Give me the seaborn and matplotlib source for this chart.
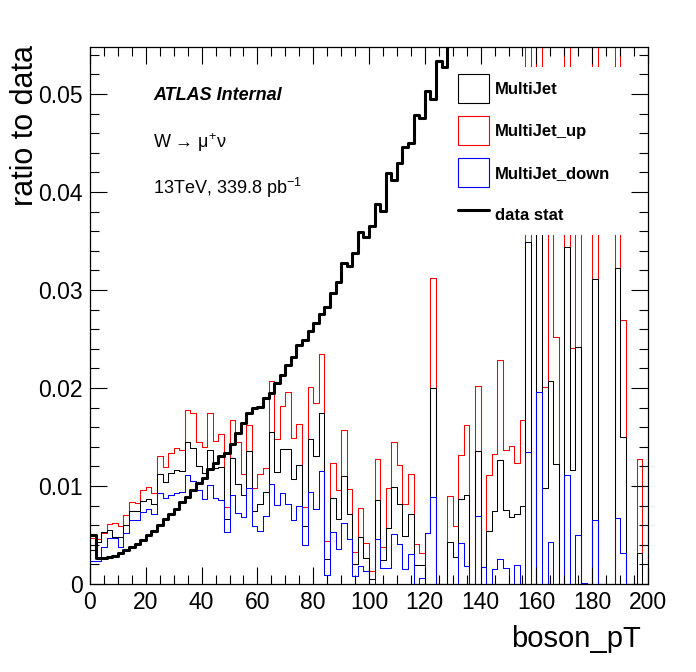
import numpy as np
import pandas as pd
import matplotlib
matplotlib.use("Agg")
import matplotlib.pyplot as plt
import seaborn as sns
from matplotlib.patches import Patch, Rectangle
from matplotlib.lines import Line2D
from matplotlib.ticker import MultipleLocator, FuncFormatter

# ---------------- data (100 bins of 2 GeV, 0-200) ----------------
bin_edges = [float(v) for v in np.arange(0, 202, 2)]
bin_centers = [e + 1.0 for e in bin_edges[:-1]]

multijet = [
    0.0035, 0.0043, 0.0053, 0.0055, 0.0048, 0.0048, 0.0060, 0.0075, 0.0074, 0.0085,
    0.0087, 0.0082, 0.0112, 0.0104, 0.0113, 0.0116, 0.0115, 0.0145, 0.0139, 0.0120,
    0.0113, 0.0137, 0.0118, 0.0119, 0.0066, 0.0129, 0.0102, 0.0091, 0.0136, 0.0075,
    0.0082, 0.0094, 0.0155, 0.0114, 0.0138, 0.0138, 0.0107, 0.0121, 0.0059, 0.0148,
    0.0131, 0.0175, 0.0026, 0.0088, 0.0066, 0.0110, 0.0071, 0.0020, 0.0048, 0.0027,
    0.0005, 0.0086, 0.0024, 0.0057, 0.0099, 0.0082, 0.0049, 0.0071, 0.0019, 0.0019,
    0.0052, 0.0200, 0.0, 0.0, 0.0043, 0.0028, 0.0087, 0.0091, 0.0, 0.0136,
    0.0017, 0.0054, 0.0074, 0.0127, 0.0076, 0.0068, 0.0071, 0.0080, 0.0349, 0.0,
    0.0500, 0.0098, 0.0207, 0.0122, 0.0, 0.0344, 0.0116, 0.0242, 0.0, 0.0,
    0.0311, 0.0, 0.0, 0.0, 0.0322, 0.0150, 0.0, 0.0, 0.0032, 0.0,
]

multijet_up = [
    0.0047, 0.0046, 0.0052, 0.0061, 0.0062, 0.0059, 0.0070, 0.0084, 0.0083, 0.0096,
    0.0099, 0.0093, 0.0131, 0.0119, 0.0134, 0.0139, 0.0137, 0.0178, 0.0174, 0.0145,
    0.0140, 0.0174, 0.0146, 0.0153, 0.0079, 0.0167, 0.0145, 0.0112, 0.0162, 0.0098,
    0.0112, 0.0118, 0.0207, 0.0148, 0.0182, 0.0196, 0.0149, 0.0163, 0.0079, 0.0201,
    0.0185, 0.0235, 0.0044, 0.0123, 0.0096, 0.0157, 0.0097, 0.0033, 0.0078, 0.0042,
    0.0013, 0.0128, 0.0038, 0.0098, 0.0145, 0.0121, 0.0082, 0.0112, 0.0041, 0.0032,
    0.0052, 0.0312, 0.0, 0.0, 0.0090, 0.0059, 0.0132, 0.0162, 0.0, 0.0202,
    0.0017, 0.0111, 0.0133, 0.0229, 0.0137, 0.0141, 0.0123, 0.0167, 0.0650, 0.0,
    0.0650, 0.0201, 0.0450, 0.0252, 0.0, 0.0650, 0.0241, 0.0470, 0.0, 0.0,
    0.0650, 0.0, 0.0, 0.0, 0.0650, 0.0269, 0.0, 0.0, 0.0128, 0.0,
]

multijet_down = [
    0.0023, 0.0023, 0.0038, 0.0047, 0.0047, 0.0038, 0.0052, 0.0065, 0.0065, 0.0073,
    0.0077, 0.0071, 0.0093, 0.0088, 0.0091, 0.0093, 0.0094, 0.0111, 0.0105, 0.0096,
    0.0087, 0.0101, 0.0088, 0.0086, 0.0053, 0.0091, 0.0072, 0.0068, 0.0098, 0.0059,
    0.0054, 0.0069, 0.0102, 0.0081, 0.0093, 0.0082, 0.0065, 0.0080, 0.0040, 0.0094,
    0.0077, 0.0115, 0.0009, 0.0053, 0.0036, 0.0062, 0.0046, 0.0008, 0.0018, 0.0013,
    0.0, 0.0046, 0.0016, 0.0016, 0.0051, 0.0041, 0.0015, 0.0031, 0.0, 0.0006,
    0.0052, 0.0089, 0.0, 0.0, 0.0, 0.0, 0.0042, 0.0018, 0.0, 0.0069,
    0.0017, 0.0, 0.0015, 0.0026, 0.0016, 0.0, 0.0019, 0.0, 0.0135, 0.0,
    0.0196, 0.0, 0.0043, 0.0, 0.0, 0.0111, 0.0, 0.0050, 0.0001, 0.0,
    0.0065, 0.0, 0.0, 0.0, 0.0067, 0.0032, 0.0, 0.0, 0.0, 0.0,
]

data_stat = [
    0.0050, 0.0027, 0.0027, 0.0028, 0.0029, 0.0032, 0.0035, 0.0038, 0.0041, 0.0045,
    0.0050, 0.0054, 0.0060, 0.0066, 0.0071, 0.0077, 0.0084, 0.0089, 0.0096, 0.0103,
    0.0108, 0.0117, 0.0123, 0.0131, 0.0134, 0.0143, 0.0154, 0.0164, 0.0175, 0.0180,
    0.0181, 0.0190, 0.0195, 0.0205, 0.0213, 0.0223, 0.0232, 0.0244, 0.0249, 0.0258,
    0.0266, 0.0276, 0.0283, 0.0297, 0.0308, 0.0328, 0.0325, 0.0338, 0.0359, 0.0354,
    0.0365, 0.0388, 0.0381, 0.0419, 0.0412, 0.0430, 0.0446, 0.0450, 0.0479, 0.0476,
    0.0503, 0.0495, 0.0534, 0.0528, 0.0568, 0.0575, 0.0600, 0.0610, 0.0640, 0.0660,
    0.0690, 0.0710, 0.0750, 0.0780, 0.0820, 0.0850, 0.0890, 0.0930, 0.0980, 0.1020,
    0.1070, 0.1120, 0.1180, 0.1230, 0.1300, 0.1360, 0.1430, 0.1500, 0.1580, 0.1660,
    0.1750, 0.1840, 0.1940, 0.2040, 0.2150, 0.2260, 0.2380, 0.2500, 0.2630, 0.2770,
]

series_names = ["MultiJet", "MultiJet_up", "MultiJet_down", "data stat"]
x_ticks = [0, 20, 40, 60, 80, 100, 120, 140, 160, 180, 200]
y_ticks = [0, 0.01, 0.02, 0.03, 0.04, 0.05]

hist_df = pd.DataFrame({
    "boson_pT": bin_centers,
    "MultiJet": multijet,
    "MultiJet_up": multijet_up,
    "MultiJet_down": multijet_down,
    "data stat": data_stat,
})

# ---------------- style ----------------
sns.set_theme(style="ticks")
plt.rcParams["font.family"] = ["Liberation Sans", "DejaVu Sans"]
plt.rcParams["mathtext.fontset"] = "custom"
plt.rcParams["mathtext.rm"] = "Liberation Sans"
plt.rcParams["mathtext.it"] = "Liberation Sans:italic"
plt.rcParams["mathtext.bf"] = "Liberation Sans:bold"
plt.rcParams["mathtext.default"] = "regular"
for key in ["text.color", "axes.labelcolor", "xtick.color", "ytick.color",
            "xtick.labelcolor", "ytick.labelcolor", "axes.edgecolor"]:
    plt.rcParams[key] = "black"

fig = plt.figure(figsize=(6.96, 6.72), dpi=100, facecolor="white")
ax = fig.add_axes([90 / 696, 1 - 584 / 672, 558 / 696, 537 / 672])
ax.set_facecolor("white")

RED = "#ff0000"
BLUE = "#0000ff"

# draw order: up (red), nominal (black), down (blue), data stat (thick black)
styles = [
    ("MultiJet_up", RED, 0.75, 2.00),
    ("MultiJet", "black", 0.75, 2.05),
    ("MultiJet_down", BLUE, 0.75, 2.10),
    ("data stat", "black", 2.2, 2.15),
]
for col, color, lw, z in styles:
    sns.histplot(data=hist_df, x="boson_pT", weights=col, bins=bin_edges,
                 element="step", fill=False, color=color, linewidth=lw,
                 ax=ax, zorder=z)

ax.set_xlim(0, 200)
ax.set_ylim(0, 0.0548)

# ticks (ROOT style: inside, all four sides)
ax.set_axisbelow(False)
ax.xaxis.set_minor_locator(MultipleLocator(5))
ax.yaxis.set_minor_locator(MultipleLocator(0.002))
ax.set_xticks(x_ticks)
ax.set_yticks(y_ticks)
ax.yaxis.set_major_formatter(FuncFormatter(lambda v, p: "0" if abs(v) < 1e-9 else f"{v:.2f}"))
ax.xaxis.set_major_formatter(FuncFormatter(lambda v, p: f"{int(round(v))}"))
ax.tick_params(which="both", direction="in", top=True, right=True,
               width=0.8, colors="black", labelcolor="black", labelsize=16.5, pad=5)
ax.tick_params(which="major", length=12.5)
ax.tick_params(which="minor", length=6.2)
for s in ax.spines.values():
    s.set_linewidth(0.9)
    s.set_color("black")

ax.set_xlabel("boson_pT", fontsize=21, ha="right", color="black")
ax.xaxis.set_label_coords(0.987, -0.077)
ax.set_ylabel("ratio to data", fontsize=22, ha="right", color="black")
ax.yaxis.set_label_coords(-0.09, 1.003)

# annotations
ax.text(0.113, 0.9013, "ATLAS Internal", transform=ax.transAxes, fontsize=13,
        fontweight="bold", fontstyle="italic", va="baseline", ha="left", color="black")
ax.text(0.113, 0.812, "W → μ$^{+}$ν", transform=ax.transAxes, fontsize=13,
        va="baseline", ha="left", color="black")
ax.text(0.113, 0.726, "13TeV, 339.8 pb$^{-1}$", transform=ax.transAxes, fontsize=13,
        va="baseline", ha="left", color="black")

# legend background (white, no border) and legend
ax.add_patch(Rectangle((0.656, 0.650), 0.344, 0.313, transform=ax.transAxes,
                       facecolor="white", edgecolor="none", zorder=2.4))
handles = [
    Patch(facecolor="none", edgecolor="black", linewidth=0.8),
    Patch(facecolor="none", edgecolor=RED, linewidth=0.8),
    Patch(facecolor="none", edgecolor=BLUE, linewidth=0.8),
    Line2D([], [], color="black", linewidth=2.2),
]
leg = ax.legend(handles, series_names, loc="upper left", bbox_to_anchor=(0.659, 0.949),
                frameon=False, prop={"weight": "bold", "size": 12},
                handlelength=1.86, handleheight=2.30, handletextpad=0.35,
                labelspacing=0.78, borderpad=0.0, borderaxespad=0.0)
for t in leg.get_texts():
    t.set_color("black")
leg.set_zorder(6)

fig.savefig("out.png", dpi=100, facecolor="white")
